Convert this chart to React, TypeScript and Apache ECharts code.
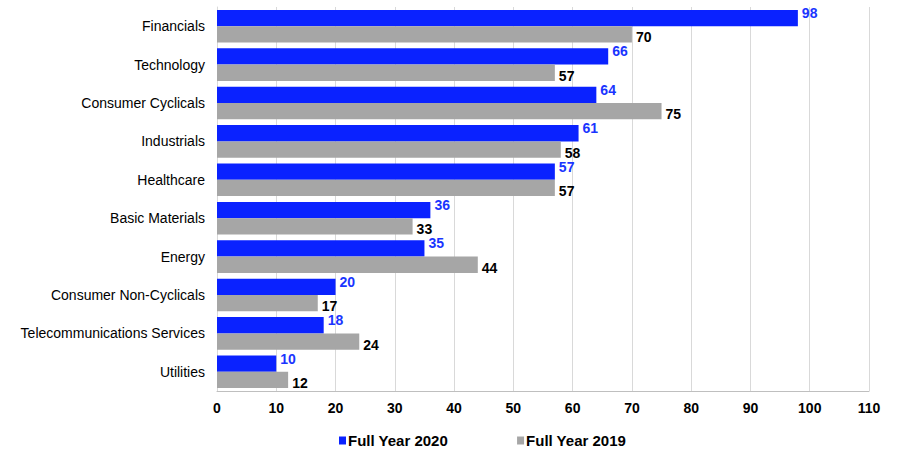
import React, { useEffect, useRef } from "react";
import * as echarts from "echarts";

const categories = [
  "Financials",
  "Technology",
  "Consumer Cyclicals",
  "Industrials",
  "Healthcare",
  "Basic Materials",
  "Energy",
  "Consumer Non-Cyclicals",
  "Telecommunications Services",
  "Utilities",
];
const fy2020 = [98, 66, 64, 61, 57, 36, 35, 20, 18, 10];
const fy2019 = [70, 57, 75, 58, 57, 33, 44, 17, 24, 12];
const seriesNames = ["Full Year 2020", "Full Year 2019"];

const FONT = "Liberation Sans, Arial, sans-serif";

export default function App() {
  const ref = useRef<HTMLDivElement>(null);
  useEffect(() => {
    if (!ref.current) return;
    const chart = echarts.init(ref.current, null, { renderer: "svg" });
    chart.setOption({
      animation: false,
      backgroundColor: "#ffffff",
      textStyle: { fontFamily: FONT },
      grid: { left: 217, right: 28, top: 7, bottom: 59, containLabel: false },
      legend: {
        data: [
          { name: seriesNames[0], itemStyle: { color: "#0a22ff" } },
          { name: seriesNames[1], itemStyle: { color: "#a6a6a6" } },
        ],
        left: 334,
        top: 428,
        itemWidth: 7,
        itemHeight: 8,
        itemGap: 69,
        icon: "rect",
        textStyle: { fontFamily: FONT, fontSize: 15, fontWeight: "bold", color: "#000", padding: [0, 0, 0, -3] },
      },
      xAxis: {
        type: "value",
        min: 0,
        max: 110,
        interval: 10,
        axisLine: { show: true, lineStyle: { color: "#bfbfbf", width: 1 } },
        axisTick: { show: false },
        splitLine: { show: true, lineStyle: { color: "#d9d9d9", width: 1 } },
        axisLabel: { fontFamily: FONT, fontSize: 14, fontWeight: "bold", color: "#000", margin: 10 },
      },
      yAxis: {
        type: "category",
        data: categories,
        inverse: true,
        axisLine: { show: true, lineStyle: { color: "#d9d9d9" } },
        axisTick: { show: false },
        axisLabel: { fontFamily: FONT, fontSize: 14, color: "#000", margin: 12 },
      },
      series: [
        {
          name: seriesNames[0],
          type: "bar",
          data: fy2020,
          barGap: "0%",
          barCategoryGap: "15%",
          itemStyle: { color: "#0a22ff" },
          label: {
            show: true,
            position: "right",
            distance: 4,
            offset: [0, -5],
            fontFamily: FONT,
            fontSize: 14,
            fontWeight: "bold",
            color: "#1a35ff",
          },
        },
        {
          name: seriesNames[1],
          type: "bar",
          data: fy2019,
          barGap: "0%",
          barCategoryGap: "15%",
          itemStyle: { color: "#a6a6a6" },
          label: {
            show: true,
            position: "right",
            distance: 4,
            offset: [0, 3],
            fontFamily: FONT,
            fontSize: 14,
            fontWeight: "bold",
            color: "#000",
          },
        },
      ],
    });
    return () => chart.dispose();
  }, []);
  return <div ref={ref} style={{ width: 897, height: 450, position: "absolute", left: 0, top: 0 }} />;
}
